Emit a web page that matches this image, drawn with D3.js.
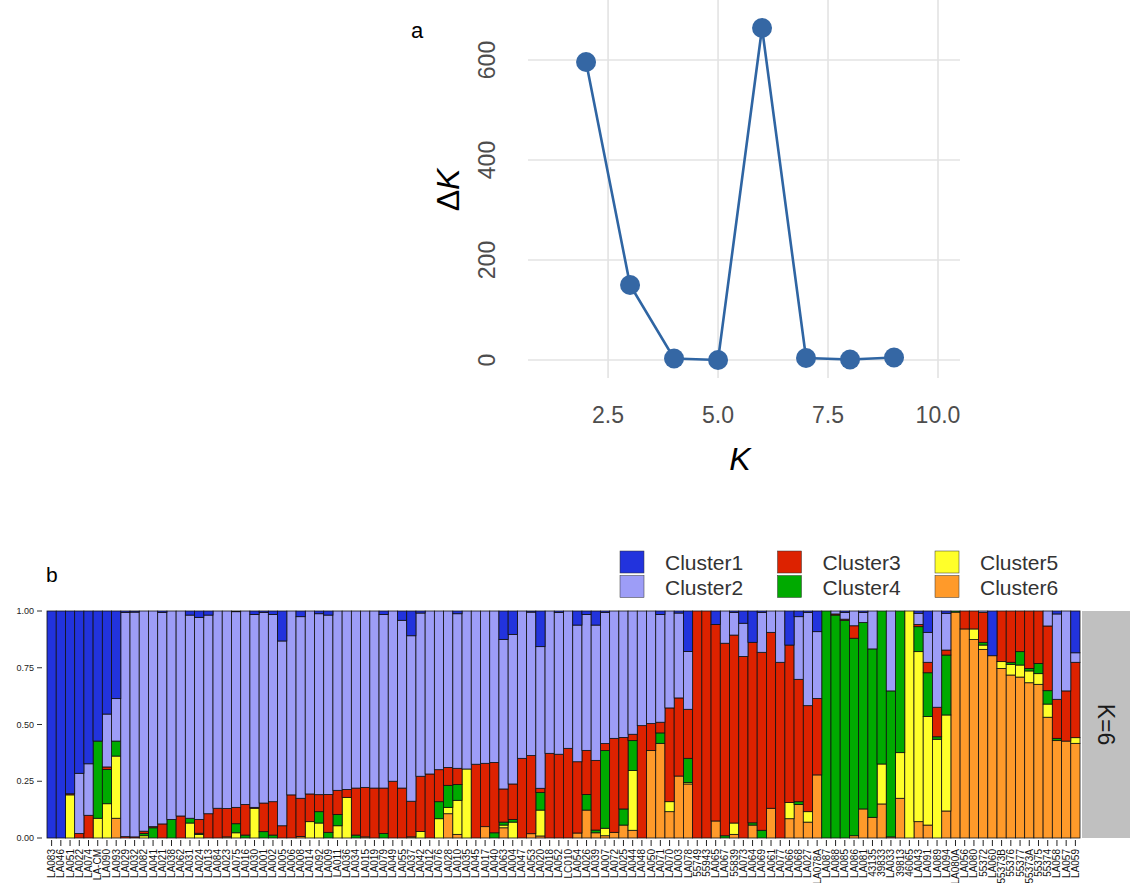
<!DOCTYPE html>
<html>
<head>
<meta charset="utf-8">
<script src="https://cdn.jsdelivr.net/npm/d3@7"></script>
<style>
  body { margin: 0; background: #fff; }
  svg { display: block; font-family: "Liberation Sans", Arial, sans-serif; }
</style>
</head>
<body>
<svg id="chart" width="1130" height="883"></svg>
<script>
// Panel a: Evanno delta K
const kValues = [2, 3, 4, 5, 6, 7, 8, 9];
const deltaK = [596, 150, 3, 0, 664, 4, 1, 5];
const kTicks = [2.5, 5.0, 7.5, 10.0];
const dkTicks = [0, 200, 400, 600];

// Panel b: STRUCTURE K=6 membership
const samples = [
  "LA083","LA046","LA051","LA022","LA074","LA-CM","LA090","LA093","LA029","LA032",
  "LA082","LA041","LA021","LA038","LA062","LA031","LA024","LA013","LA084","LA023",
  "LA075","LA016","LA030","LA001","LA002","LA005","LA006","LA008","LA014","LA092",
  "LA009","LA011","LA036","LA034","LA015","LA019","LA079","LA049","LA055","LA037",
  "LA042","LA012","LA076","LA028","LA010","LA035","LA045","LA017","LA040","LA063",
  "LA004","LA047","LA053","LA020","LA018","LA052","LC010","LA054","LA026","LA039",
  "LA007","LA072","LA025","LA044","LA048","LA050","LA071","LA070","LA003","LA078",
  "55749","55943","LA065","LA067","55839","LA073","LA064","LA069","LA061","LA077",
  "LA066","LA068","LA027","LA078A","LA087","LA088","LA085","LA086","LA081","43135",
  "39833","LA033","39813","46065","LA043","LA091","LA089","LA094","LA080A","LA056",
  "LA080","55372","LA060","55373B","55376","55377","55373A","55375","55374","LA058",
  "LA057","LA059"
];
const cluster1 = [
  1, 1, 0.805, 0.715, 0.673, 0.573, 0.454, 0.386, 0.006, 0.005,
  0, 0, 0.006, 0, 0, 0.018, 0.028, 0.018, 0, 0,
  0.003, 0, 0.015, 0.006, 0.015, 0.132, 0, 0.025, 0, 0.012,
  0.018, 0, 0, 0, 0, 0, 0.015, 0, 0.041, 0.109,
  0.009, 0, 0, 0, 0.012, 0, 0, 0, 0, 0.125,
  0.103, 0, 0.005, 0.157, 0, 0.006, 0, 0.062, 0.015, 0.062,
  0.006, 0, 0, 0, 0, 0, 0.015, 0, 0.009, 0.178,
  0, 0, 0.059, 0, 0.006, 0.054, 0.138, 0.006, 0, 0,
  0.15, 0.025, 0.006, 0.091, 0, 0, 0.006, 0, 0.006, 0,
  0, 0, 0, 0, 0.01, 0.094, 0, 0.01, 0, 0,
  0, 0, 0.197, 0, 0, 0, 0, 0, 0, 0.013,
  0, 0.184
];
const cluster2 = [
  0, 0, 0, 0.265, 0.227, 0, 0.233, 0.187, 0.988, 0.99,
  0.97, 0.95, 0.932, 0.918, 0.903, 0.895, 0.89, 0.875, 0.869, 0.87,
  0.862, 0.852, 0.85, 0.84, 0.825, 0.814, 0.81, 0.8, 0.806, 0.797,
  0.79, 0.79, 0.786, 0.78, 0.777, 0.78, 0.765, 0.75, 0.739, 0.729,
  0.719, 0.718, 0.699, 0.689, 0.681, 0.696, 0.675, 0.671, 0.667, 0.659,
  0.659, 0.649, 0.632, 0.624, 0.627, 0.625, 0.605, 0.602, 0.599, 0.596,
  0.578, 0.561, 0.557, 0.543, 0.505, 0.496, 0.475, 0.427, 0.374, 0.255,
  0, 0, 0, 0.142, 0.1, 0.146, 0, 0.176, 0.094, 0.226,
  0, 0.276, 0.411, 0.294, 0, 0.013, 0.03, 0.065, 0.045, 0.167,
  0, 0.352, 0, 0, 0.049, 0.132, 0.424, 0.162, 0, 0,
  0, 0.006, 0, 0, 0, 0, 0, 0, 0.066, 0.376,
  0.352, 0.042
];
const cluster3 = [
  0, 0, 0.005, 0.02, 0.1, 0, 0.011, 0, 0.006, 0.005,
  0.01, 0.005, 0.062, 0, 0.097, 0, 0.061, 0.107, 0.131, 0.125,
  0.072, 0.135, 0.004, 0.126, 0.147, 0.054, 0.19, 0.168, 0.122, 0.075,
  0.167, 0.106, 0.035, 0.207, 0.218, 0.22, 0.2, 0.25, 0.22, 0.157,
  0.243, 0.282, 0.141, 0.079, 0.071, 0, 0.325, 0.279, 0.31, 0.146,
  0.156, 0.351, 0.344, 0.018, 0.373, 0.369, 0.395, 0.314, 0.194, 0.307,
  0.031, 0.414, 0.315, 0.028, 0.495, 0.119, 0.047, 0.413, 0.344, 0.216,
  1, 1, 0.866, 0.848, 0.828, 0.8, 0.795, 0.784, 0.775, 0.774,
  0.694, 0.539, 0.467, 0.337, 0, 0.005, 0.005, 0.055, 0, 0,
  0, 0, 0, 0, 0.01, 0.046, 0.13, 0.022, 0, 0.079,
  0.079, 0.132, 0, 0.223, 0.226, 0.179, 0.253, 0.231, 0.285, 0.172,
  0.221, 0.332
];
const cluster4 = [
  0, 0, 0, 0, 0, 0.34, 0.151, 0.066, 0, 0,
  0.01, 0.045, 0, 0.082, 0, 0.021, 0.005, 0, 0, 0,
  0.04, 0.013, 0, 0.028, 0.013, 0, 0, 0, 0, 0.05,
  0.025, 0.05, 0, 0.013, 0, 0, 0.02, 0, 0, 0,
  0, 0, 0.075, 0.097, 0.07, 0, 0, 0, 0.023, 0.013,
  0.012, 0, 0, 0.078, 0, 0, 0, 0, 0.069, 0.012,
  0.342, 0, 0.071, 0.132, 0, 0, 0.046, 0, 0, 0.107,
  0, 0, 0, 0.01, 0, 0, 0.01, 0.034, 0, 0,
  0, 0.012, 0, 0, 1, 0.982, 0.959, 0.87, 0.821, 0.742,
  0.674, 0.643, 0.624, 0, 0.11, 0.193, 0.011, 0.264, 0.005, 0,
  0, 0.012, 0, 0, 0.009, 0.059, 0.011, 0.045, 0.059, 0.01,
  0, 0
];
const cluster5 = [
  0, 0, 0.19, 0, 0, 0.087, 0.151, 0.274, 0, 0,
  0.01, 0, 0, 0, 0, 0.066, 0.016, 0, 0, 0,
  0.023, 0, 0.131, 0, 0, 0, 0, 0, 0.072, 0.066,
  0, 0.054, 0.179, 0, 0, 0, 0, 0, 0, 0,
  0.029, 0, 0.085, 0.028, 0.15, 0.304, 0, 0, 0, 0.012,
  0.07, 0, 0, 0.114, 0, 0, 0, 0, 0, 0,
  0.033, 0, 0, 0.263, 0, 0, 0, 0.044, 0, 0.006,
  0, 0, 0, 0, 0.05, 0, 0, 0, 0, 0,
  0.071, 0, 0.046, 0, 0, 0, 0, 0, 0, 0,
  0.176, 0, 0.201, 1, 0.749, 0.478, 0.435, 0.423, 0, 0,
  0.047, 0.019, 0, 0.03, 0.047, 0.053, 0.052, 0.047, 0.058, 0,
  0, 0.025
];
const cluster6 = [
  0, 0, 0, 0, 0, 0, 0, 0.087, 0, 0,
  0, 0, 0, 0, 0, 0, 0, 0, 0, 0.005,
  0, 0, 0, 0, 0, 0, 0, 0.007, 0, 0,
  0, 0, 0, 0, 0.005, 0, 0, 0, 0, 0.005,
  0, 0, 0, 0.107, 0.016, 0, 0, 0.05, 0, 0.045,
  0, 0, 0.019, 0.009, 0, 0, 0, 0.022, 0.123, 0.023,
  0.01, 0.025, 0.057, 0.034, 0, 0.385, 0.417, 0.116, 0.273, 0.238,
  0, 0, 0.075, 0, 0.016, 0, 0.057, 0, 0.131, 0,
  0.085, 0.148, 0.07, 0.278, 0, 0, 0, 0.01, 0.128, 0.091,
  0.15, 0.005, 0.175, 0, 0.072, 0.057, 0, 0.119, 0.995, 0.921,
  0.874, 0.831, 0.803, 0.747, 0.718, 0.709, 0.684, 0.677, 0.532, 0.429,
  0.427, 0.417
];
const clusterNames = ["Cluster1", "Cluster2", "Cluster3", "Cluster4", "Cluster5", "Cluster6"];
const clusterColors = ["#2233DD", "#9D9DF7", "#DD2200", "#00AA00", "#FFFF2A", "#FF9A2A"];
const qTicks = [0, 0.25, 0.5, 0.75, 1];

const svg = d3.select("#chart");
const textCol = "#4D4D4D";

// ---------- panel a ----------
const ax = d3.scaleLinear().domain([0.68, 10.5]).range([528, 960]);
const ay = d3.scaleLinear().domain([-36, 720]).range([378, 0]);
const pa = svg.append("g");

pa.selectAll("line.hg").data(dkTicks).join("line")
  .attr("x1", ax.range()[0]).attr("x2", ax.range()[1])
  .attr("y1", d => ay(d)).attr("y2", d => ay(d))
  .attr("stroke", "#E3E3E3").attr("stroke-width", 1.6);
pa.selectAll("line.vg").data(kTicks).join("line")
  .attr("x1", d => ax(d)).attr("x2", d => ax(d))
  .attr("y1", ay.range()[0]).attr("y2", ay.range()[1])
  .attr("stroke", "#E3E3E3").attr("stroke-width", 1.6);

pa.selectAll("text.xt").data(kTicks).join("text")
  .attr("x", d => ax(d)).attr("y", 423)
  .attr("text-anchor", "middle").attr("font-size", 23).attr("fill", textCol)
  .text(d => d.toFixed(1));
pa.selectAll("text.yt").data(dkTicks).join("text")
  .attr("transform", d => `translate(495,${ay(d)}) rotate(-90)`)
  .attr("text-anchor", "middle").attr("font-size", 23).attr("fill", textCol)
  .text(d => d);

const pts = kValues.map((k, i) => ({ k, v: deltaK[i] }));
pa.append("path").datum(pts)
  .attr("d", d3.line().x(d => ax(d.k)).y(d => ay(d.v)))
  .attr("fill", "none").attr("stroke", "#2F65A3").attr("stroke-width", 2.6);
pa.selectAll("circle").data(pts).join("circle")
  .attr("cx", d => ax(d.k)).attr("cy", d => ay(d.v)).attr("r", 10)
  .attr("fill", "#3567A4");

pa.append("text").attr("x", 740).attr("y", 470)
  .attr("text-anchor", "middle").attr("font-size", 32).attr("font-style", "italic").attr("fill", "#000")
  .text("K");
const yt = pa.append("text").attr("transform", "translate(459,190) rotate(-90)")
  .attr("text-anchor", "middle").attr("font-size", 32).attr("fill", "#000");
yt.append("tspan").text("Δ");
yt.append("tspan").attr("font-style", "italic").text("K");
pa.append("text").attr("x", 411).attr("y", 38).attr("font-size", 22).attr("fill", "#000").text("a");

// ---------- panel b ----------
const bx = d3.scaleBand().domain(samples).range([47, 1080]).padding(0);
const by = d3.scaleLinear().domain([0, 1]).range([838, 611]);
const rows = samples.map((s, i) => ({
  sample: s,
  Cluster1: cluster1[i], Cluster2: cluster2[i], Cluster3: cluster3[i],
  Cluster4: cluster4[i], Cluster5: cluster5[i], Cluster6: cluster6[i]
}));
const stackKeys = clusterNames.slice().reverse();
const series = d3.stack().keys(stackKeys)(rows);
const color = d3.scaleOrdinal().domain(clusterNames).range(clusterColors);

const pb = svg.append("g");
pb.selectAll("g.layer").data(series).join("g")
  .attr("fill", d => color(d.key))
  .selectAll("rect").data(d => d).join("rect")
  .attr("x", d => bx(d.data.sample)).attr("width", bx.bandwidth())
  .attr("y", d => by(d[1])).attr("height", d => Math.max(0, by(d[0]) - by(d[1])))
  .attr("stroke", "#111").attr("stroke-width", 0.8);

// y axis
pb.selectAll("text.qt").data(qTicks).join("text")
  .attr("x", 34).attr("y", d => by(d) + 3)
  .attr("text-anchor", "end").attr("font-size", 9).attr("fill", "#222")
  .text(d => d.toFixed(2));
pb.selectAll("line.qtk").data(qTicks).join("line")
  .attr("x1", 37).attr("x2", 42).attr("y1", d => by(d)).attr("y2", d => by(d))
  .attr("stroke", "#333").attr("stroke-width", 1);

// x axis
pb.selectAll("line.stk").data(samples).join("line")
  .attr("x1", d => bx(d) + bx.bandwidth() / 2).attr("x2", d => bx(d) + bx.bandwidth() / 2)
  .attr("y1", 840).attr("y2", 846)
  .attr("stroke", "#222").attr("stroke-width", 1);
pb.selectAll("text.st").data(samples).join("text")
  .attr("transform", d => `translate(${bx(d) + bx.bandwidth() / 2 + 3.5},849) rotate(-90)`)
  .attr("text-anchor", "end").attr("font-size", 10).attr("fill", "#111")
  .text(d => d);

// facet strip
pb.append("rect").attr("x", 1082).attr("y", 611).attr("width", 48).attr("height", 227)
  .attr("fill", "#C0C0C0");
pb.append("text").attr("transform", "translate(1098,724.5) rotate(90)")
  .attr("text-anchor", "middle").attr("font-size", 23).attr("fill", "#1a1a1a")
  .text("K=6");

pb.append("text").attr("x", 46).attr("y", 582).attr("font-size", 21).attr("fill", "#000").text("b");

// legend
const legendOrder = [0, 2, 4, 1, 3, 5];
const lg = pb.append("g");
legendOrder.forEach((ci, j) => {
  const col = j % 3, row = Math.floor(j / 3);
  const gx = 620 + col * 157.5, gy = 551 + row * 24.5;
  lg.append("rect").attr("x", gx).attr("y", gy).attr("width", 24).attr("height", 22)
    .attr("fill", clusterColors[ci]).attr("stroke", "#333").attr("stroke-width", 0.5);
  lg.append("text").attr("x", gx + 45).attr("y", gy + 19)
    .attr("font-size", 21).attr("fill", "#333").text(clusterNames[ci]);
});
</script>
</body>
</html>
